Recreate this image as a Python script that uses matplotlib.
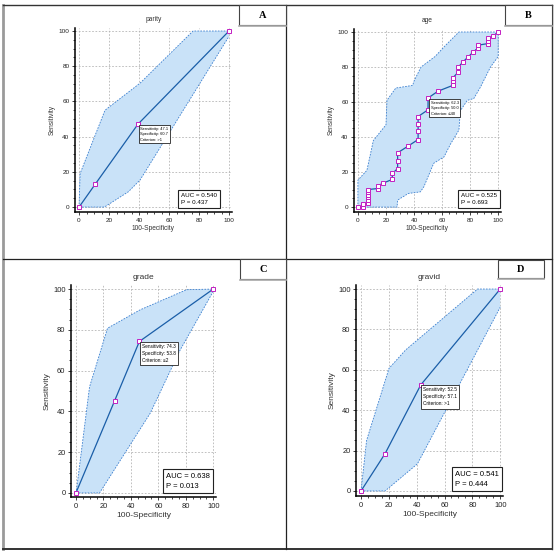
import numpy as np
import matplotlib
matplotlib.use("Agg")
import matplotlib.pyplot as plt
from matplotlib.lines import Line2D
from matplotlib.patches import Rectangle
from matplotlib.ticker import MultipleLocator

plt.rcParams["font.family"] = ["Liberation Sans", "DejaVu Sans"]

W, H = 554, 551

# ---- data ----
titles = ["parity", "age", "grade", "gravid"]
letters = ["A", "B", "C", "D"]
auc_texts = ["AUC = 0.540\nP = 0.437", "AUC = 0.525\nP = 0.693",
             "AUC = 0.638\nP = 0.013", "AUC = 0.541\nP = 0.444"]
crit_texts = ["Sensitivity: 47.1\nSpecificity: 60.7\nCriterion: >1",
              "Sensitivity: 62.3\nSpecificity: 50.0\nCriterion: \u226440",
              "Sensitivity: 74.3\nSpecificity: 53.8\nCriterion: \u22642",
              "Sensitivity: 52.5\nSpecificity: 57.1\nCriterion: >1"]
crit_x = [39.3, 50.0, 46.2, 42.9]
crit_y = [47.1, 62.3, 74.3, 52.5]

a_fpr = [0, 10.7, 39.3, 100]
a_tpr = [0, 12.9, 47.1, 100]
a_up_x = [0, 0.7, 17.3, 40.7, 76, 100]
a_up_y = [0, 19, 55, 70.4, 100, 100]
a_lo_x = [0, 16.9, 32.9, 40.7, 100]
a_lo_y = [0, 0, 8.7, 15.4, 97]

b_fpr = [0, 3.3, 3.3, 7, 7, 7, 7, 7, 7, 14, 14, 17.9, 24.5, 24.5, 28.3, 28.3,
         28.3, 35.7, 42.9, 42.9, 42.9, 42.9, 50, 50, 57.1, 67.9, 67.9, 67.9,
         71.4, 71.4, 75, 78.6, 82.1, 85.7, 85.7, 92.9, 92.9, 92.9, 96.4, 100]
b_tpr = [0, 0, 2, 2.5, 4, 5.5, 7, 8.5, 10, 10.6, 12, 13.7, 15.8, 19.2, 22,
         26.6, 31, 34.8, 38.6, 43.7, 47.3, 51.7, 55.6, 62.3, 66.2, 69.6, 71.9,
         74, 77, 79.8, 83, 85.8, 88.5, 91, 92.5, 93.4, 94.9, 96.4, 97.7, 100]
b_up_x = [0, 0, 6.4, 11, 20, 20.7, 27, 39, 40, 45, 55, 62, 72, 100]
b_up_y = [0, 15.4, 21, 38, 47, 61, 68, 69.5, 72, 80, 86, 92, 100, 100]
b_lo_x = [0, 27.9, 28.3, 36, 44.5, 47, 54, 61.4, 66, 72, 73, 78, 82.6,
          87.4, 94.5, 100, 100]
b_lo_y = [0, 0, 4, 7.8, 8.7, 11.6, 25, 28.7, 36, 44, 55, 61, 62, 68.6,
          80, 86, 100]

c_fpr = [0, 28.1, 46.2, 100]
c_tpr = [0, 45.1, 74.3, 100]
c_up_x = [0, 0.7, 9.9, 23, 46.7, 80.6, 100]
c_up_y = [0, 3, 52, 80.8, 89.8, 99.7, 100]
c_lo_x = [0, 17.2, 54, 75.8, 100]
c_lo_y = [0, 0, 39, 70, 98.9]

d_fpr = [0, 17.3, 42.9, 100]
d_tpr = [0, 18.5, 52.5, 100]
d_up_x = [0, 4, 20.1, 32, 83.7, 100]
d_up_y = [0, 25, 60.7, 69.8, 100, 100]
d_lo_x = [0, 17.3, 40.5, 100]
d_lo_y = [0, 0, 13.4, 91]

panels = [
    (a_fpr, a_tpr, a_up_x, a_up_y, a_lo_x, a_lo_y),
    (b_fpr, b_tpr, b_up_x, b_up_y, b_lo_x, b_lo_y),
    (c_fpr, c_tpr, c_up_x, c_up_y, c_lo_x, c_lo_y),
    (d_fpr, d_tpr, d_up_x, d_up_y, d_lo_x, d_lo_y),
]

# ---- layout (pixels) ----
# axes box: left, top, right, bottom ; limits
ax_px = [(75, 27.5, 232, 212), (354, 28.5, 501, 212),
         (71, 285, 216, 497), (356, 285, 503, 496)]
xlims = [(-2.7, 102), (-2.8, 102), (-3.6, 102), (-3.6, 102)]
ylims = [(-2.8, 102), (-2.8, 102), (-2.0, 102), (-2.5, 102)]
small = [True, True, False, False]
auc_pos = [(92, 1.2), (99, 1.2), (97.5, 1.5), (99, 1.5)]
box_px = [(239, 5, 286, 25), (505, 5, 552, 25), (240, 259, 286, 279),
          (498, 260, 544, 278)]

fig = plt.figure(figsize=(W / 100, H / 100), dpi=100)
fig.patch.set_facecolor("white")


def rect(l, t, r, b):
    return [l / W, 1 - b / H, (r - l) / W, (b - t) / H]


def fline(x0, y0, x1, y1, **kw):
    fig.add_artist(Line2D([x0 / W, x1 / W], [1 - y0 / H, 1 - y1 / H],
                          transform=fig.transFigure, **kw))


line_col = "#1a5ea8"
band_col = "#c9e2f8"
edge_col = "#3b7fcf"
mk_col = "#c21fc2"

for i, (fpr, tpr, ux, uy, lx, ly) in enumerate(panels):
    ax = fig.add_axes(rect(*ax_px[i]))
    sm = small[i]
    fs_tick = 4.6 if sm else 5.4
    fs_lab = 4.8 if sm else 6.0
    fs_auc = 4.5 if sm else 5.5

    poly_x = list(ux) + list(lx)[::-1]
    poly_y = list(uy) + list(ly)[::-1]
    ax.fill(poly_x, poly_y, color=band_col, lw=0, zorder=1)
    ax.plot(ux, uy, ls=(0, (2, 1.5)), color=edge_col, lw=0.6, zorder=2)
    ax.plot(lx, ly, ls=(0, (2, 1.5)), color=edge_col, lw=0.6, zorder=2)
    ax.plot(fpr, tpr, color=line_col, lw=0.9, zorder=3)
    ax.plot(fpr, tpr, ls="none", marker="s", ms=3.0 if sm else 3.3,
            mfc="white", mec=mk_col, mew=0.7, zorder=4)

    ax.set_xlim(*xlims[i])
    ax.set_ylim(*ylims[i])
    ax.set_xticks(np.arange(0, 101, 20))
    ax.set_yticks(np.arange(0, 101, 20))
    ax.xaxis.set_minor_locator(MultipleLocator(5))
    ax.yaxis.set_minor_locator(MultipleLocator(5))
    ax.grid(True, which="major", ls=(0, (2, 2)), color="#b5b5b5", lw=0.6)
    ax.set_axisbelow(True)
    for s in ["top", "right"]:
        ax.spines[s].set_visible(False)
    for s in ["left", "bottom"]:
        ax.spines[s].set_linewidth(1.1)
    ax.tick_params(which="major", length=2.5, width=0.6, labelsize=fs_tick,
                   pad=1.5, colors="#222222")
    ax.tick_params(which="minor", length=1.5, width=0.5)
    ax.set_title(titles[i], fontsize=fs_lab, pad=5 if sm else 4,
                 color="#333333")
    ax.set_xlabel("100-Specificity", fontsize=fs_lab, labelpad=2,
                  color="#333333")
    ax.set_ylabel("Sensitivity", fontsize=fs_lab, labelpad=2,
                  color="#333333")

    ax.annotate(crit_texts[i], xy=(crit_x[i], crit_y[i]),
                xytext=(1.8, -1.8), textcoords="offset points",
                ha="left", va="top", fontsize=2.9 if sm else 3.4,
                linespacing=1.5, zorder=6,
                bbox=dict(boxstyle="square,pad=0.45", fc="white",
                          ec="#222222", lw=0.6))

    ax.text(auc_pos[i][0], auc_pos[i][1], auc_texts[i], ha="right",
            va="bottom", multialignment="left", fontsize=fs_auc,
            linespacing=1.6, zorder=6,
            bbox=dict(boxstyle="square,pad=0.45", fc="white",
                      ec="#222222", lw=0.8))

    # letter box
    l, t, r, b = box_px[i]
    fig.add_artist(Rectangle((l / W, 1 - b / H), (r - l) / W, (b - t) / H,
                             transform=fig.transFigure, fc="white",
                             ec="#444444", lw=0.8, zorder=5))
    fline(l, b + 1, r, b + 1, color="#aaaaaa", lw=1.2, zorder=5)
    fig.text((l + r) / 2 / W, 1 - (t + b) / 2 / H, letters[i],
             ha="center", va="center", fontsize=7.5, fontweight="bold",
             family="Liberation Serif", zorder=6)

# outer frame and dividers
fline(3, 5, 3, 549, color="#9a9a9a", lw=2.0)
fline(3, 5, 552, 5, color="#333333", lw=1.0)
fline(552, 5, 552, 549, color="#333333", lw=1.0)
fline(3, 549, 552, 549, color="#333333", lw=1.4)
fline(286, 5, 286, 549, color="#222222", lw=0.9)
fline(3, 259, 552, 259, color="#222222", lw=0.9)

fig.savefig("out.png", dpi=100)
